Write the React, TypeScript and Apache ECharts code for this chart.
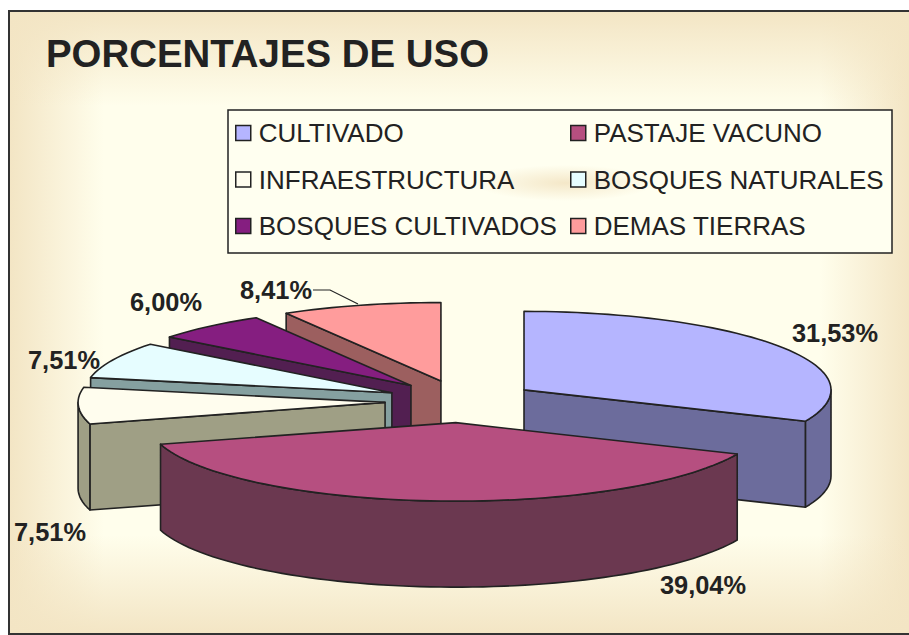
import React, { useEffect, useRef } from "react";
import * as echarts from "echarts";

const categories = ["CULTIVADO", "PASTAJE VACUNO", "INFRAESTRUCTURA", "BOSQUES NATURALES", "BOSQUES CULTIVADOS", "DEMAS TIERRAS"];
const values = [31.53, 39.04, 7.51, 7.51, 6.0, 8.41];
const topColors = ["#b5b5ff", "#b64f80", "#fffdee", "#e6fdff", "#851e80", "#ff9c9c"];
const sideColors = ["#6c6c9c", "#6b3850", "#9f9f85", "#85a0a0", "#521f51", "#9c5f5f"];
const labelAnchors = [[835, 333], [703, 585], [50, 532], [64, 360], [166, 302], [276, 290]];

const W = 909, H = 635;
const CX = 460.7, CY = 401.5, RX = 307, RY = 78.5, DEPTH = 86, EXPLODE = 75.7, EXPLODE_TILT = 0.28;
const INK = "#222222";
const FONT = "'Liberation Sans', Arial, sans-serif";
const total = values.reduce((a, b) => a + b, 0);
const rad = (d: number) => (d * Math.PI) / 180;
const starts: number[] = [];
values.reduce((acc, v, i) => { starts[i] = acc; return acc + (v / total) * 360; }, 0);
const ends = values.map((v, i) => starts[i] + (v / total) * 360);
const mids = values.map((_, i) => (starts[i] + ends[i]) / 2);
const byDepth = [...mids.keys()].sort((a, b) => -Math.cos(rad(mids[a])) + Math.cos(rad(mids[b])));

function arcPoints(ax: number, ay: number, a: number, b: number, dy = 0) {
  const n = Math.max(2, Math.ceil((b - a) / 2));
  const pts: number[][] = [];
  for (let k = 0; k <= n; k++) {
    const t = rad(a + ((b - a) * k) / n);
    pts.push([ax + RX * Math.sin(t), ay - RY * Math.cos(t) + dy]);
  }
  return pts;
}

function renderSlice(params: any) {
  const i = params.seriesIndex;
  const a = starts[i], b = ends[i], m = rad(mids[i]);
  const ax = CX + EXPLODE * Math.sin(m);
  const ay = CY - EXPLODE * EXPLODE_TILT * Math.cos(m);
  const stroke = { stroke: INK, lineWidth: 1.6, lineJoin: "round" };
  const side = { fill: sideColors[i], ...stroke };
  const children: any[] = [];
  const wall = (deg: number) => {
    const p = arcPoints(ax, ay, deg, deg + 0.001)[0];
    children.push({ type: "polygon", shape: { points: [[ax, ay], p, [p[0], p[1] + DEPTH], [ax, ay + DEPTH]] }, style: side });
  };
  if (Math.sin(rad(a)) < -1e-6) wall(a);
  if (Math.sin(rad(b)) > 1e-6) wall(b);
  const fa = Math.max(a, 90), fb = Math.min(b, 270);
  if (fb > fa) {
    const upper = arcPoints(ax, ay, fa, fb);
    const lower = arcPoints(ax, ay, fa, fb, DEPTH).reverse();
    children.push({ type: "polygon", shape: { points: [...upper, ...lower] }, style: side });
  }
  children.push({ type: "polygon", shape: { points: [[ax, ay], ...arcPoints(ax, ay, a, b)] }, style: { fill: topColors[i], ...stroke } });
  return { type: "group", children };
}

const edge = (x: number, y: number, w: number, h: number, x0: number, y0: number, x1: number, y1: number) => ({
  type: "rect",
  z: 0,
  silent: true,
  shape: { x, y, width: w, height: h },
  style: {
    fill: new echarts.graphic.LinearGradient(x0, y0, x1, y1, [
      { offset: 0, color: "rgba(243,229,196,1)" },
      { offset: 1, color: "rgba(243,229,196,0)" },
    ]),
  },
});

const legendBase = {
  orient: "vertical",
  top: 120,
  itemWidth: 15,
  itemHeight: 15,
  itemGap: 20.5,
  selectedMode: false,
  icon: "rect",
  z: 20,
  padding: 0,
  itemStyle: { borderColor: INK, borderWidth: 1.5 },
  textStyle: { fontFamily: FONT, fontSize: 26, color: INK, padding: [3, 0, 0, 3] },
};

export default function App() {
  const ref = useRef<HTMLDivElement>(null);
  useEffect(() => {
    const chart = echarts.init(ref.current!, null, { renderer: "svg" });
    chart.setOption({
      animation: false,
      title: {
        text: "PORCENTAJES DE USO",
        left: 46,
        top: 34,
        padding: 0,
        textStyle: { fontFamily: FONT, fontSize: 38.4, fontWeight: "bold", color: INK },
      },
      legend: [
        { ...legendBase, left: 235, data: [categories[0], categories[2], categories[4]] },
        { ...legendBase, left: 570, data: [categories[1], categories[3], categories[5]] },
      ],
      graphic: [
        { type: "rect", z: 0, silent: true, shape: { x: 9, y: 11, width: W, height: H - 11 }, style: { fill: "#fffeec" } },
        edge(9, 11, 95, H - 11, 0, 0, 1, 0),
        edge(820, 11, 89, H - 11, 1, 0, 0, 0),
        edge(9, 11, W, 95, 0, 0, 0, 1),
        edge(9, 535, W, 100, 0, 1, 0, 0),
        { type: "rect", z: 1, silent: true, shape: { x: 9, y: 11, width: W, height: H - 12 }, style: { fill: "none", stroke: "#333333", lineWidth: 2 } },
        { type: "rect", z: 2, silent: true, shape: { x: 228, y: 110, width: 664, height: 143 }, style: { fill: "#fffff0", stroke: "#222222", lineWidth: 1.5 } },
        {
          type: "ellipse", z: 3, silent: true,
          shape: { cx: 565, cy: 183, rx: 90, ry: 18 },
          style: {
            fill: new echarts.graphic.RadialGradient(0.5, 0.5, 0.5, [
              { offset: 0, color: "rgba(243,229,196,0.9)" },
              { offset: 1, color: "rgba(243,229,196,0)" },
            ]),
          },
        },
        ...values.map((v, i) => ({
          type: "text", z: 25, silent: true,
          style: {
            x: labelAnchors[i][0], y: labelAnchors[i][1],
            text: v.toFixed(2).replace(".", ",") + "%",
            font: `bold 25.4px ${FONT}`,
            fill: INK, textAlign: "center", textVerticalAlign: "middle",
          },
        })),
        {
          type: "polyline", z: 25, silent: true,
          shape: { points: [[313, 290], [330, 290], [358, 304]] },
          style: { fill: "none", stroke: INK, lineWidth: 1.2 },
        },
      ],
      series: values.map((v, i) => ({
        type: "custom",
        name: categories[i],
        coordinateSystem: "none",
        silent: true,
        clip: false,
        z: 5 + byDepth.indexOf(i),
        itemStyle: { color: topColors[i] },
        data: [[v]],
        renderItem: renderSlice,
      })),
    });
    return () => chart.dispose();
  }, []);
  return <div ref={ref} style={{ position: "absolute", left: 0, top: 0, width: W, height: H }} />;
}
